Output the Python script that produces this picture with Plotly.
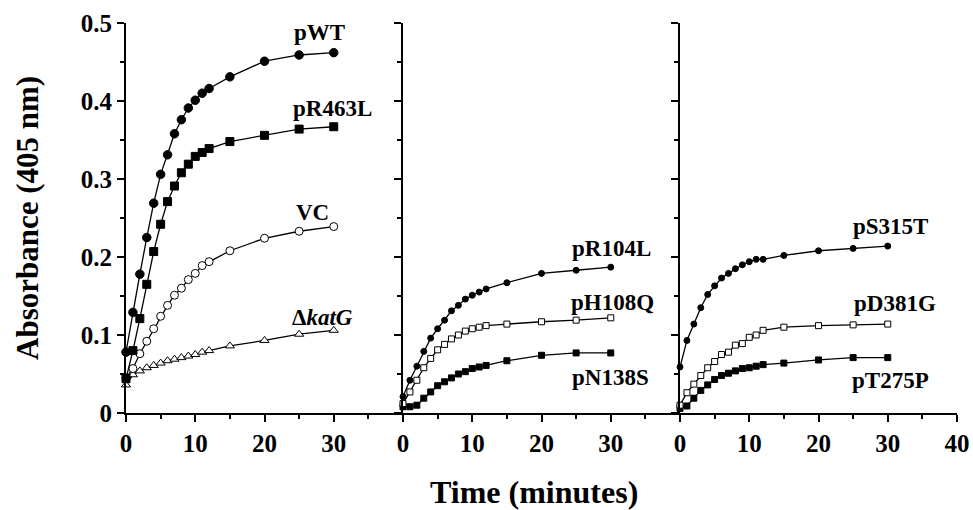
import plotly.graph_objects as go
from plotly.subplots import make_subplots

t = [0, 1, 2, 3, 4, 5, 6, 7, 8, 9, 10, 11, 12, 15, 20, 25, 30]

# Panel 1
pWT = [0.078, 0.129, 0.178, 0.225, 0.269, 0.306, 0.331, 0.358, 0.376, 0.391, 0.401, 0.410, 0.416, 0.431, 0.451, 0.459, 0.462]
pR463L = [0.044, 0.080, 0.121, 0.165, 0.207, 0.242, 0.271, 0.291, 0.308, 0.319, 0.329, 0.334, 0.339, 0.348, 0.356, 0.364, 0.367]
VC = [0.045, 0.057, 0.076, 0.092, 0.108, 0.124, 0.138, 0.151, 0.160, 0.171, 0.179, 0.189, 0.194, 0.208, 0.224, 0.233, 0.239]
dkatG = [0.036, 0.049, 0.054, 0.058, 0.061, 0.064, 0.067, 0.069, 0.071, 0.073, 0.075, 0.078, 0.080, 0.086, 0.093, 0.101, 0.106]

# Panel 2
pR104L = [0.021, 0.042, 0.060, 0.079, 0.096, 0.108, 0.119, 0.131, 0.138, 0.146, 0.151, 0.155, 0.159, 0.167, 0.179, 0.183, 0.187]
pH108Q = [0.012, 0.027, 0.042, 0.058, 0.070, 0.081, 0.088, 0.095, 0.100, 0.105, 0.108, 0.110, 0.112, 0.114, 0.117, 0.119, 0.122]
pN138S = [0.008, 0.008, 0.010, 0.019, 0.027, 0.035, 0.040, 0.045, 0.050, 0.053, 0.057, 0.059, 0.061, 0.067, 0.074, 0.077, 0.077]

# Panel 3
pS315T = [0.059, 0.093, 0.114, 0.135, 0.152, 0.163, 0.173, 0.179, 0.185, 0.190, 0.194, 0.197, 0.197, 0.202, 0.208, 0.211, 0.214]
pD381G = [0.010, 0.026, 0.037, 0.048, 0.058, 0.066, 0.075, 0.078, 0.087, 0.089, 0.097, 0.100, 0.106, 0.110, 0.112, 0.113, 0.114]
pT275P = [0.006, 0.009, 0.019, 0.029, 0.036, 0.043, 0.048, 0.051, 0.054, 0.057, 0.058, 0.060, 0.062, 0.064, 0.068, 0.071, 0.071]

x_major = [0, 10, 20, 30]
x_major_last = [0, 10, 20, 30, 40]
x_minor = [5, 15, 25, 35]
y_major = [0, 0.1, 0.2, 0.3, 0.4, 0.5]
y_labels = ["0", "0.1", "0.2", "0.3", "0.4", "0.5"]
y_minor = [0.05, 0.15, 0.25, 0.35, 0.45]

FONT = "Liberation Serif, Times New Roman, serif"

W, H = 973, 510
L, R, T, B = 126, 16, 23, 97
pw, ph = W - L - R, H - T - B

fig = make_subplots(rows=1, cols=3, horizontal_spacing=0)

def add(col, y, symbol, size, filled, name):
    fig.add_trace(go.Scatter(
        x=t, y=y, mode="lines+markers", name=name,
        line=dict(color="black", width=1.3),
        marker=dict(symbol=symbol, size=size, color="black" if filled else "white",
                    line=dict(color="black", width=1)),
        cliponaxis=False, showlegend=False), row=1, col=col)

add(1, dkatG, "triangle-up", 8, False, "ΔkatG")
add(1, VC, "circle", 8, False, "VC")
add(1, pR463L, "square", 8, True, "pR463L")
add(1, pWT, "circle", 8.5, True, "pWT")
add(2, pN138S, "square", 6, True, "pN138S")
add(2, pH108Q, "square", 6, False, "pH108Q")
add(2, pR104L, "circle", 6, True, "pR104L")
add(3, pT275P, "square", 6, True, "pT275P")
add(3, pD381G, "square", 6, False, "pD381G")
add(3, pS315T, "circle", 6, True, "pS315T")

tickfont = dict(family=FONT, size=25, color="black", weight="bold")
for col in (1, 2, 3):
    fig.update_xaxes(
        range=[0, 40], tickvals=x_major_last if col == 3 else x_major,
        ticks="outside", ticklen=7, tickwidth=2, tickcolor="black",
        showline=True, linecolor="black", linewidth=2, showgrid=False, zeroline=False,
        tickfont=tickfont, automargin=False,
        minor=dict(tickvals=x_minor, ticks="outside", ticklen=4, tickwidth=2, tickcolor="black"),
        row=1, col=col)
    fig.update_yaxes(
        range=[0, 0.5], tickvals=y_major, ticktext=y_labels,
        showticklabels=(col == 1),
        ticks="outside", ticklen=7, tickwidth=2, tickcolor="black",
        showline=True, linecolor="black", linewidth=2, showgrid=False, zeroline=False,
        tickfont=tickfont, automargin=False,
        minor=dict(tickvals=y_minor, ticks="outside", ticklen=4, tickwidth=1.5, tickcolor="black"),
        row=1, col=col)

labels = [
    (1, 27.9, 0.488, "pWT"),
    (1, 29.8, 0.390, "pR463L"),
    (1, 27.0, 0.257, "VC"),
    (1, 28.4, 0.123, "Δ<i>katG</i>"),
    (2, 30.1, 0.211, "pR104L"),
    (2, 30.3, 0.142, "pH108Q"),
    (2, 29.9, 0.046, "pN138S"),
    (3, 30.4, 0.239, "pS315T"),
    (3, 31.1, 0.141, "pD381G"),
    (3, 30.4, 0.042, "pT275P"),
]
for col, x, y, txt in labels:
    xr = "x" if col == 1 else f"x{col}"
    yr = "y" if col == 1 else f"y{col}"
    fig.add_annotation(x=x, y=y, xref=xr, yref=yr, text=txt, showarrow=False,
                       xanchor="center", yanchor="middle",
                       font=dict(family=FONT, size=23, color="black", weight="bold"))

fig.add_annotation(x=(534 - L) / pw, y=(H - B - 492) / ph, xref="paper", yref="paper",
                   text="Time (minutes)", showarrow=False, xanchor="center", yanchor="middle",
                   font=dict(family=FONT, size=32, color="black", weight="bold"))
fig.add_annotation(x=(27 - L) / pw, y=(H - B - 218) / ph, xref="paper", yref="paper",
                   text="Absorbance (405 nm)", textangle=-90, showarrow=False,
                   xanchor="center", yanchor="middle",
                   font=dict(family=FONT, size=31, color="black", weight="bold"))

fig.update_layout(
    width=W, height=H,
    margin=dict(l=L, r=R, t=T, b=B, autoexpand=False),
    plot_bgcolor="white", paper_bgcolor="white",
    font=dict(family=FONT),
)

fig.write_html("out.html",
               config={"displayModeBar": False},
               post_script="document.body.style.margin='0';document.body.style.padding='0';")
